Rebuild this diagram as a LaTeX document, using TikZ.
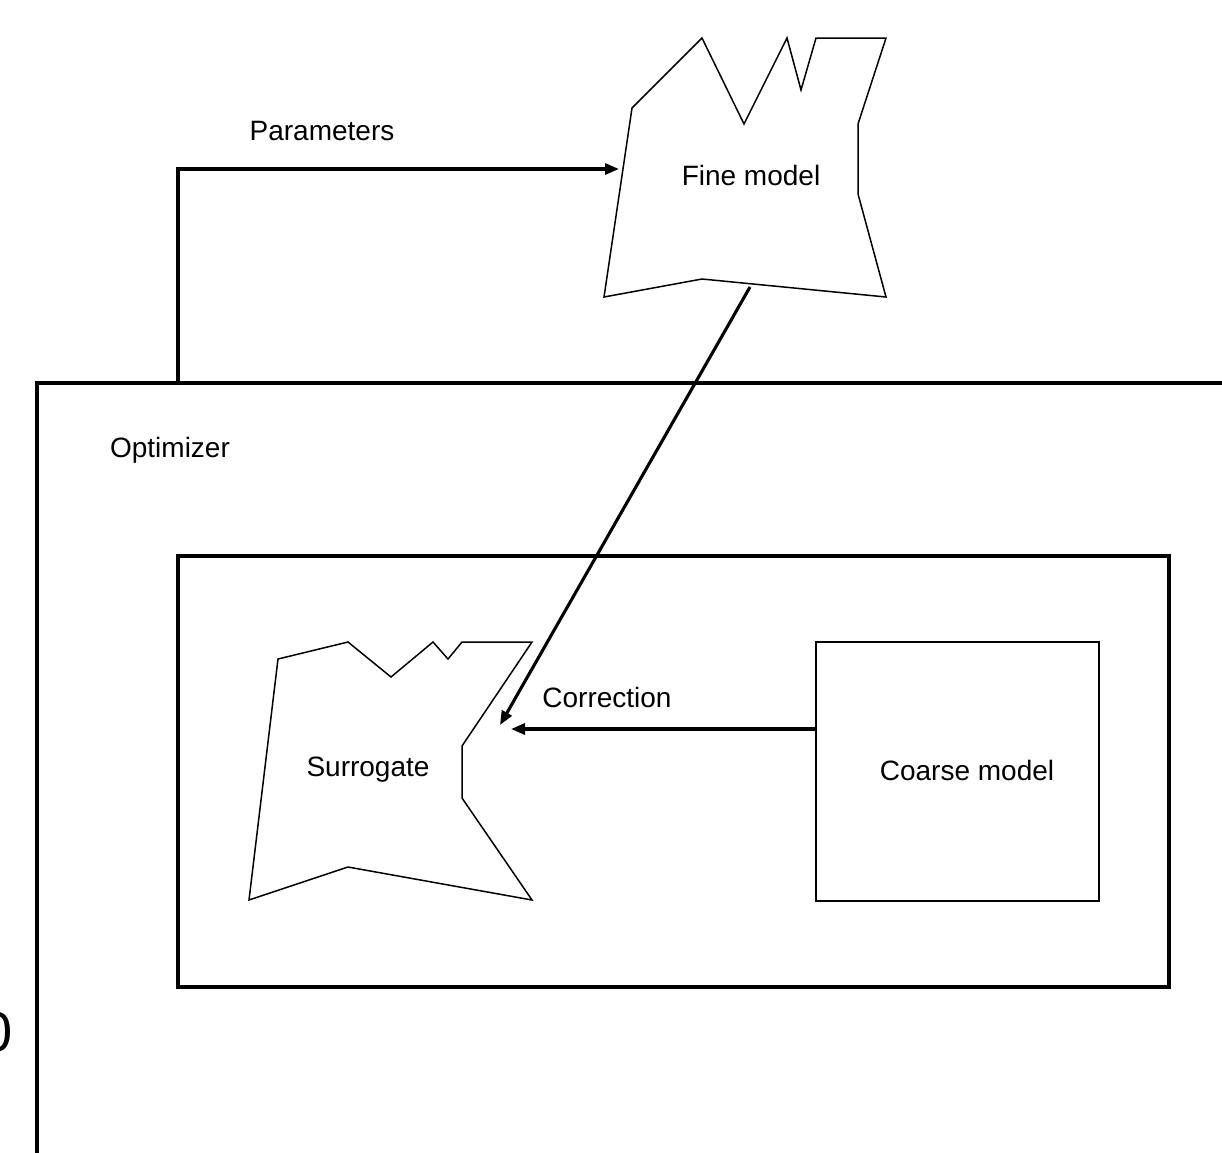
\documentclass[tikz,border=0pt]{standalone}
\usepackage{fontspec}
\setmainfont{Liberation Sans}
\usetikzlibrary{arrows.meta}
\begin{document}
\begin{tikzpicture}[x=1pt,y=-1pt,
  thinline/.style={line width=1.5pt, line join=miter},
  thickline/.style={line width=3.2pt},
  arrowline/.style={line width=3.1pt, -{Triangle[length=14pt,width=11pt]}},
  lbl/.style={inner sep=0pt, font=\fontsize{28}{33}\selectfont}]
\useasboundingbox (0,0) rectangle (1222,1152);
\begin{scope}
\clip (0,0) rectangle (1222,1152);
% outer optimizer frame (cropped)
\draw[thickline] (37,1160) -- (37,383) -- (1230,383);
\node[inner sep=0pt, anchor=east, font=\fontsize{56}{60}\selectfont] (zero) at (13,1032) {0};
\end{scope}
% fine model polygon
\draw[thinline] (702,38) -- (744,124) -- (787,38) -- (801,90) -- (816,38) -- (886,38)
  -- (858,124) -- (858,194) -- (886,297) -- (702,279) -- (604,297) -- (632,108) -- cycle;
\node[lbl] (fine) at (751,175) {Fine model};
% inner box
\draw[thickline] (178,556) rectangle (1169,987);
% surrogate polygon
\draw[thinline] (278,659) -- (348,642) -- (391,677) -- (433,642) -- (448,659) -- (462,642)
  -- (532,642) -- (462,746) -- (462,798) -- (532,900) -- (348,867) -- (249,900) -- cycle;
\node[lbl] (surr) at (368,770) {Surrogate};
% coarse model box
\draw[thinline] (816,642) rectangle (1099,901);
\node[lbl] (coarse) at (967,770) {Coarse model};
% labels
\node[lbl] (opt) at (170,450) {Optimizer};
\node[lbl] (par) at (322,131) {Parameters};
\node[lbl] (corr) at (607,697) {Correction};
% connector coordinates
\coordinate (optTop) at (178,383);
\coordinate (parCorner) at (178,169);
\coordinate (fineIn) at (619,169);
\coordinate (fineOut) at (750,287);
\coordinate (surrInA) at (500,725);
\coordinate (coarseOut) at (816,729);
\coordinate (surrInB) at (511,729);
% connectors
\draw[arrowline] (optTop) -- (parCorner) -- (fineIn);
\draw[arrowline] (fineOut) -- (surrInA);
\draw[arrowline] (coarseOut) -- (surrInB);
\end{tikzpicture}
\end{document}
